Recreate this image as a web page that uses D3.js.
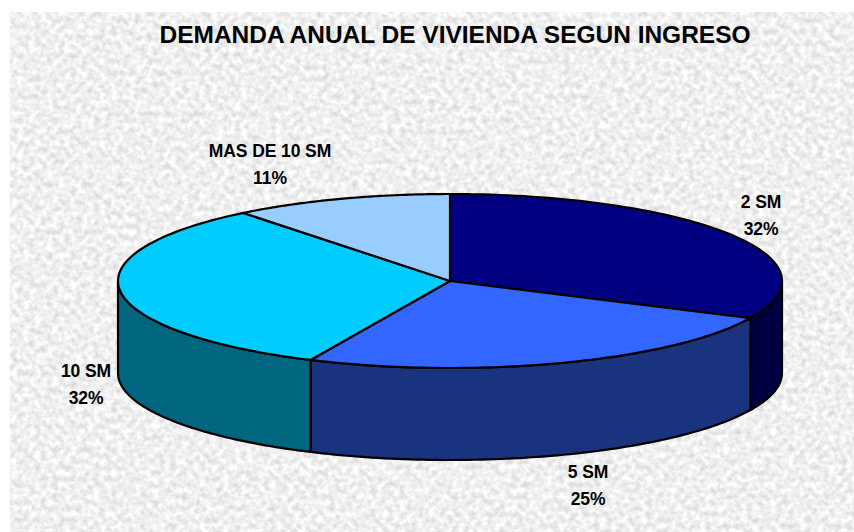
<!DOCTYPE html>
<html><head><meta charset="utf-8">
<style>html,body{margin:0;padding:0;background:#fff}svg{display:block}text{font-family:"Liberation Sans",Arial,sans-serif;font-weight:bold;fill:#000}</style>
<script src="https://cdn.jsdelivr.net/npm/d3@7"></script></head><body><div id="c"></div>
<script>
const title = "DEMANDA ANUAL DE VIVIENDA SEGUN INGRESO";
const categories = ["2 SM","5 SM","10 SM","MAS DE 10 SM"];
const values = [32.0,24.9,32.4,10.7];
const labels = ["32%","25%","32%","11%"];
const topColors = ["#000080","#3366ff","#00ccff","#99ccff"];
const sideColors = ["#000040","#1a337f","#006680","#4d6680"];
const labelPos = [[761,208],[588,478],[86,377],[270,157]];

const W=854,H=532,cx=450,cy=281,rx=332,ry=87,depth=92;
const svg=d3.select("#c").append("svg").attr("width",W).attr("height",H);
const defs=svg.append("defs");
const f=defs.append("filter").attr("id","tex").attr("x",0).attr("y",0).attr("width","100%").attr("height","100%").attr("color-interpolation-filters","sRGB");
f.append("feTurbulence").attr("type","fractalNoise").attr("baseFrequency",0.17).attr("numOctaves",2).attr("seed",7).attr("result","n");
f.append("feColorMatrix").attr("in","n").attr("type","matrix").attr("values","0.26 0 0 0 0.81  0.26 0 0 0 0.81  0.26 0 0 0 0.81  0 0 0 0 1");
svg.append("rect").attr("x",10).attr("y",12).attr("width",W-10).attr("height",H-12).attr("fill","#eee").attr("filter","url(#tex)");

const pie=d3.pie().sort(null).value(d=>d);
const arcs=pie(values);
const px=a=>cx+rx*Math.sin(a), py=a=>cy-ry*Math.cos(a);
const line=d3.line().x(d=>d[0]).y(d=>d[1]);
const angles=(a,b)=>d3.range(0,81).map(i=>a+(b-a)*i/80);
const sw={stroke:"#000","stroke-width":2.2,"stroke-linejoin":"round"};
function draw(d,attrs,fill){const p=svg.append("path").attr("d",d).attr("fill",fill);Object.entries(attrs).forEach(([k,v])=>p.attr(k,v));}

// side walls: only the front half of the ellipse (pi/2 .. 3pi/2)
arcs.forEach((s,i)=>{
  const a=Math.max(s.startAngle,Math.PI/2), b=Math.min(s.endAngle,1.5*Math.PI);
  if(b<=a) return;
  const as=angles(a,b);
  const pts=as.map(t=>[px(t),py(t)]).concat(as.slice().reverse().map(t=>[px(t),py(t)+depth]));
  draw(line(pts)+"Z",sw,sideColors[i]);
});
// top slices
arcs.forEach((s,i)=>{
  const pts=[[cx,cy]].concat(angles(s.startAngle,s.endAngle).map(t=>[px(t),py(t)]));
  draw(line(pts)+"Z",sw,topColors[i]);
});
svg.append("text").attr("x",455).attr("y",43).attr("text-anchor","middle").attr("font-size",24).attr("textLength",591).attr("lengthAdjust","spacingAndGlyphs").text(title);
categories.forEach((c,i)=>{
  const [x,y]=labelPos[i];
  const t=svg.append("text").attr("text-anchor","middle").attr("font-size",17.5).attr("letter-spacing",-0.1);
  t.append("tspan").attr("x",x).attr("y",y).text(c);
  t.append("tspan").attr("x",x).attr("y",y+27).text(labels[i]);
});
</script></body></html>
